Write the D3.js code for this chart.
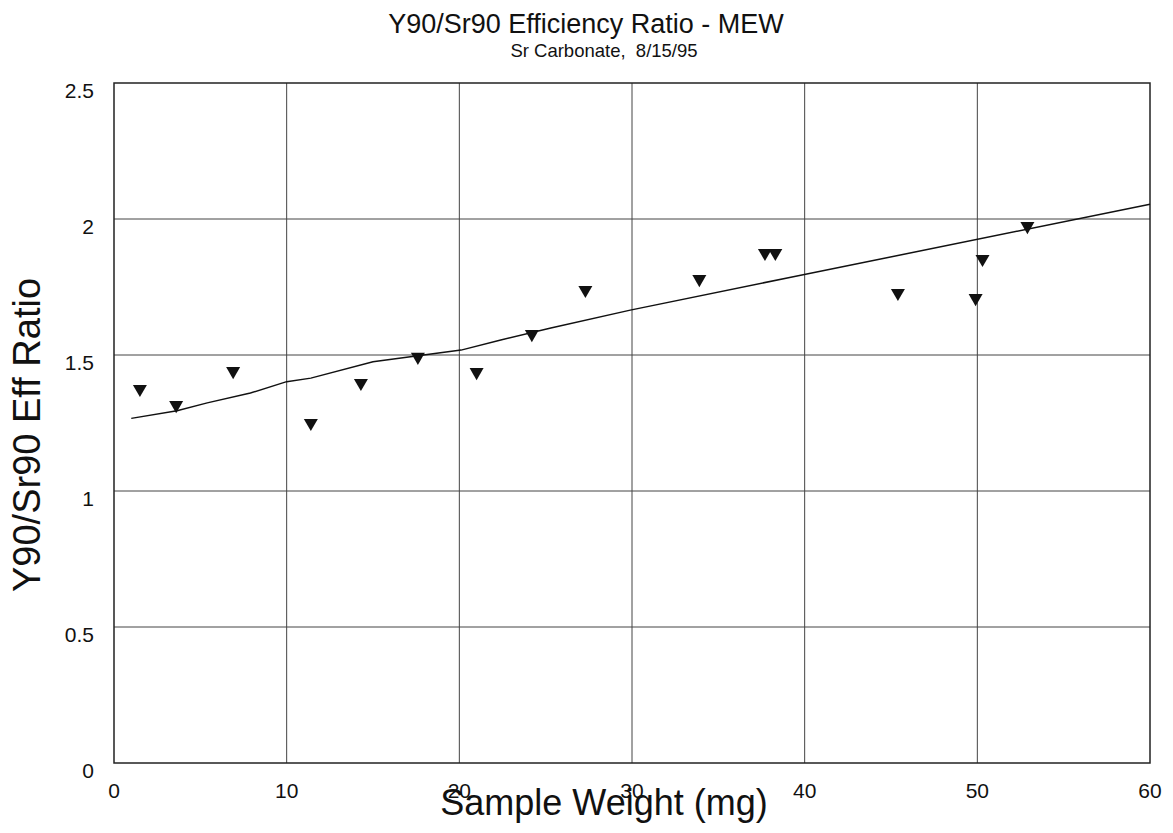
<!DOCTYPE html>
<html>
<head>
<meta charset="utf-8">
<script src="https://cdn.jsdelivr.net/npm/d3@7"></script>
<style>
  html, body { margin: 0; padding: 0; background: #fff; }
  text { font-family: "Liberation Sans", Arial, sans-serif; fill: #111; white-space: pre; }
</style>
</head>
<body>
<svg id="chart" width="1173" height="833"></svg>
<script>
// Measured sample weights (mg) and Y90/Sr90 efficiency ratios
const weights = [1.5, 3.6, 6.9, 11.4, 14.3, 17.6, 21.0, 24.2, 27.3, 33.9, 37.7, 38.3, 45.4, 49.9, 50.3, 52.9];
const ratios  = [1.375, 1.316, 1.441, 1.25, 1.397, 1.493, 1.437, 1.577, 1.739, 1.779, 1.875, 1.875, 1.728, 1.709, 1.853, 1.974];

// Fitted curve through the data
const fitX = [1.0, 3.65, 5.4, 7.9, 10.0, 11.4, 15.0, 17.6, 20.1, 22.4, 25.3, 29.9, 39.2, 60];
const fitY = [1.267, 1.295, 1.324, 1.360, 1.402, 1.415, 1.475, 1.497, 1.518, 1.555, 1.599, 1.665, 1.786, 2.054];

const xTicks = [0, 10, 20, 30, 40, 50, 60];
const yTicks = [0, 0.5, 1, 1.5, 2, 2.5];
const yTickLabels = ["0", "0.5", "1", "1.5", "2", "2.5"];

const svg = d3.select("#chart");
const plotL = 114, plotR = 1150, plotT = 83, plotB = 763;

const x = d3.scaleLinear().domain([0, 60]).range([plotL, plotR]);
const y = d3.scaleLinear().domain([0, 2.5]).range([plotB, plotT]);

// Grid lines
const grid = svg.append("g");
grid.selectAll("line.v").data(xTicks.slice(1, -1)).join("line")
  .attr("class", "v")
  .attr("x1", d => x(d)).attr("x2", d => x(d))
  .attr("y1", plotT).attr("y2", plotB)
  .attr("stroke", "#444").attr("stroke-width", 1);
grid.selectAll("line.h").data(yTicks.slice(1, -1)).join("line")
  .attr("class", "h")
  .attr("x1", plotL).attr("x2", plotR)
  .attr("y1", d => y(d)).attr("y2", d => y(d))
  .attr("stroke", "#444").attr("stroke-width", 1);

// Frame
svg.append("rect")
  .attr("x", plotL).attr("y", plotT)
  .attr("width", plotR - plotL).attr("height", plotB - plotT)
  .attr("fill", "none").attr("stroke", "#222").attr("stroke-width", 1.5);

// Axis tick labels
svg.append("g").selectAll("text").data(xTicks).join("text")
  .attr("x", d => x(d)).attr("y", 798)
  .attr("text-anchor", "middle")
  .attr("font-size", 21)
  .text(d => d);

svg.append("g").selectAll("text").data(yTicks).join("text")
  .attr("x", 94).attr("y", d => y(d) + 15)
  .attr("text-anchor", "end")
  .attr("font-size", 21)
  .text((d, i) => yTickLabels[i]);

// Fitted curve
const line = d3.line().x(d => x(d[0])).y(d => y(d[1]));
svg.append("path")
  .datum(fitX.map((v, i) => [v, fitY[i]]))
  .attr("d", line)
  .attr("fill", "none").attr("stroke", "#111").attr("stroke-width", 1.5);

// Data markers: downward triangles
const tri = d3.symbol().type(d3.symbolTriangle).size(85);
svg.append("g").selectAll("path").data(weights.map((w, i) => [w, ratios[i]])).join("path")
  .attr("d", tri)
  .attr("transform", d => `translate(${x(d[0])},${y(d[1])}) rotate(180)`)
  .attr("fill", "#111");

// Titles
svg.append("text")
  .attr("x", 586).attr("y", 33)
  .attr("text-anchor", "middle")
  .attr("font-size", 27)
  .text("Y90/Sr90 Efficiency Ratio - MEW");
svg.append("text")
  .attr("x", 604).attr("y", 57)
  .attr("text-anchor", "middle")
  .attr("font-size", 18.5)
  .text("Sr Carbonate,  8/15/95");

svg.append("text")
  .attr("x", 604).attr("y", 815)
  .attr("text-anchor", "middle")
  .attr("font-size", 36)
  .text("Sample Weight (mg)");

svg.append("text")
  .attr("transform", "translate(40,435) rotate(-90)")
  .attr("text-anchor", "middle")
  .attr("font-size", 38)
  .text("Y90/Sr90 Eff Ratio");
</script>
</body>
</html>
